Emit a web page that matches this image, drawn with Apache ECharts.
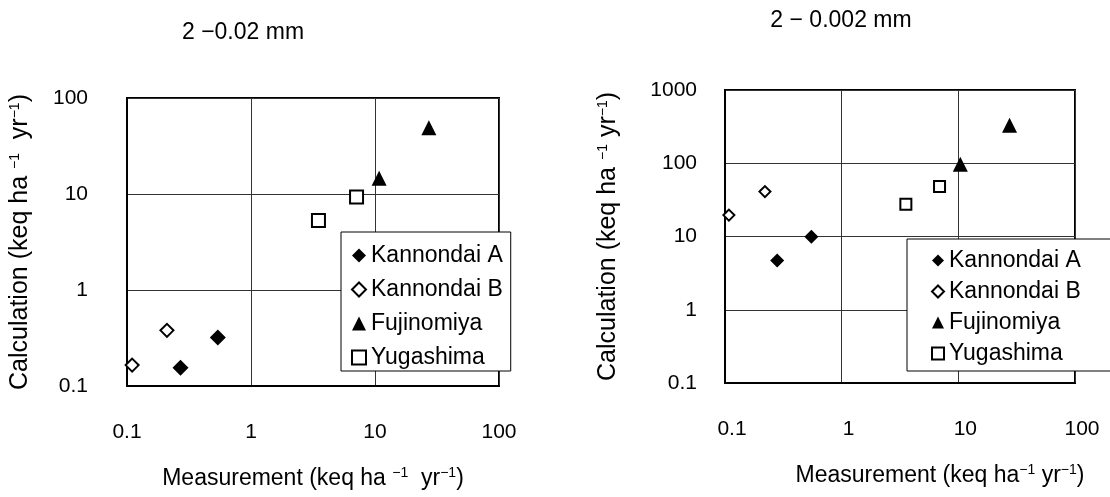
<!DOCTYPE html>
<html>
<head>
<meta charset="utf-8">
<script src="https://cdn.jsdelivr.net/npm/echarts@6/dist/echarts.min.js"></script>
<style>
  html, body { margin: 0; padding: 0; background: #fff; }
  #main { width: 1110px; height: 497px; }
</style>
</head>
<body>
<div id="main"></div>
<script>
// 2-0.02 mm  [measurement, calculation]
let coarseKannondaiA = [[0.27, 0.155], [0.54, 0.32]]
let coarseKannondaiB = [[0.11, 0.165], [0.21, 0.38]]
let coarseFujinomiya = [[10.8, 14.6], [27.2, 49]]
let coarseYugashima = [[3.5, 5.3], [7.1, 9.3]]

// 2-0.002 mm
let fineKannondaiA = [[0.28, 4.7], [0.55, 9.9]]
let fineKannondaiB = [[0.108, 19.6], [0.22, 41]]
let fineFujinomiya = [[10.4, 97], [27.5, 330]]
let fineYugashima = [[3.55, 27.6], [6.9, 48]]

let siteNames = ['Kannondai A', 'Kannondai B', 'Fujinomiya', 'Yugashima']
let panelTitles = ['2 \u22120.02 mm', '2 \u2212 0.002 mm']

const FONT = 'Liberation Sans, Arial, sans-serif'

// 各站点的符号样式
function siteSeries(name, data, idx, size) {
  let s = {
    name: name,
    type: 'scatter',
    xAxisIndex: idx,
    yAxisIndex: idx,
    data: data,
    symbolSize: size,
    itemStyle: { color: '#000', opacity: 1 },
    emphasis: { disabled: true }
  }
  if (name == 'Kannondai A') {
    s.symbol = 'diamond'
  } else if (name == 'Kannondai B') {
    s.symbol = 'diamond'
    s.symbolSize = size - 3
    s.itemStyle = { color: '#fff', borderColor: '#000', borderWidth: 2, opacity: 1 }
  } else if (name == 'Fujinomiya') {
    s.symbol = 'triangle'
  } else {
    s.symbol = 'rect'
    s.symbolSize = size - 3
    s.itemStyle = { color: '#fff', borderColor: '#000', borderWidth: 2, opacity: 1 }
  }
  return s
}

function logAxis(idx, max, labelMargin) {
  return {
    type: 'log',
    logBase: 10,
    gridIndex: idx,
    min: 0.1,
    max: max,
    axisLine: { show: true, lineStyle: { color: '#000', width: 2 } },
    axisTick: { show: false },
    minorTick: { show: false },
    splitLine: { show: true, lineStyle: { color: '#333', width: 1 } },
    axisLabel: {
      margin: labelMargin,
      color: '#000',
      fontSize: 21,
      fontFamily: FONT,
      formatter: function (v) { return String(v) }
    }
  }
}

function unitRich(size) {
  return {
    n: { fontSize: size, fontFamily: FONT, color: '#000' },
    s: { fontSize: 14, fontFamily: FONT, color: '#000', verticalAlign: 'top', padding: [0, 0, 11, 0] }
  }
}

let chart = echarts.init(document.getElementById('main'))

let xLeft = logAxis(0, 100, 36)
xLeft.name = '{n|Measurement (keq ha }{s|\u22121}{n|  yr}{s|\u22121}{n|)}'
xLeft.nameLocation = 'middle'
xLeft.nameGap = 80
xLeft.nameTextStyle = { rich: unitRich(23) }

let yLeft = logAxis(0, 100, 39)
yLeft.name = '{n|Calculation (keq ha }{s|\u22121}{n|  yr}{s|\u22121}{n|)}'
yLeft.nameLocation = 'middle'
yLeft.nameGap = 94
yLeft.nameTextStyle = { rich: unitRich(25) }

let xRight = logAxis(1, 100, 36)
xRight.axisLabel.padding = [0, 0, 0, 14]
xRight.name = '{n|Measurement (keq ha}{s|\u22121}{n| yr}{s|\u22121}{n|)}'
xRight.nameLocation = 'middle'
xRight.nameGap = 80
xRight.nameTextStyle = { rich: unitRich(23), padding: [0, 0, 0, 80] }

let yRight = logAxis(1, 1000, 28)
yRight.name = '{n|Calculation (keq ha }{s|\u22121}{n| yr}{s|\u22121}{n|)}'
yRight.nameLocation = 'middle'
yRight.nameGap = 104
yRight.nameTextStyle = { rich: unitRich(25) }

let legendBase = {
  orient: 'vertical',
  data: siteNames,
  backgroundColor: '#fff',
  borderColor: '#000',
  borderWidth: 1,
  borderRadius: 0,
  selectedMode: false,
  textStyle: { fontSize: 23, fontFamily: FONT, color: '#000' }
}

let option = {
  animation: false,
  backgroundColor: '#fff',
  title: [
    { text: panelTitles[0], left: 238, top: 16, textAlign: 'center',
      textStyle: { fontSize: 23, fontWeight: 'normal', fontFamily: FONT, color: '#000' } },
    { text: panelTitles[1], left: 836, top: 4, textAlign: 'center',
      textStyle: { fontSize: 23, fontWeight: 'normal', fontFamily: FONT, color: '#000' } }
  ],
  grid: [
    { left: 127, top: 98, width: 372, height: 288, show: true, borderColor: '#000', borderWidth: 2, backgroundColor: 'transparent' },
    { left: 725, top: 90, width: 350, height: 293, show: true, borderColor: '#000', borderWidth: 2, backgroundColor: 'transparent' }
  ],
  legend: [
    Object.assign({}, legendBase, {
      left: 341, top: 232, itemWidth: 14, itemHeight: 14, itemGap: 11,
      padding: [12, 8, 2, 10]
    }),
    Object.assign({}, legendBase, {
      left: 907, top: 239, itemWidth: 12, itemHeight: 12, itemGap: 8,
      padding: [10, 80, 6, 24]
    })
  ],
  xAxis: [xLeft, xRight],
  yAxis: [yLeft, yRight],
  series: [
    siteSeries('Kannondai A', coarseKannondaiA, 0, 16),
    siteSeries('Kannondai B', coarseKannondaiB, 0, 16),
    siteSeries('Fujinomiya', coarseFujinomiya, 0, 15),
    siteSeries('Yugashima', coarseYugashima, 0, 16),
    siteSeries('Kannondai A', fineKannondaiA, 1, 14),
    siteSeries('Kannondai B', fineKannondaiB, 1, 14),
    siteSeries('Fujinomiya', fineFujinomiya, 1, 15),
    siteSeries('Yugashima', fineYugashima, 1, 14)
  ]
}

chart.setOption(option)
</script>
</body>
</html>
